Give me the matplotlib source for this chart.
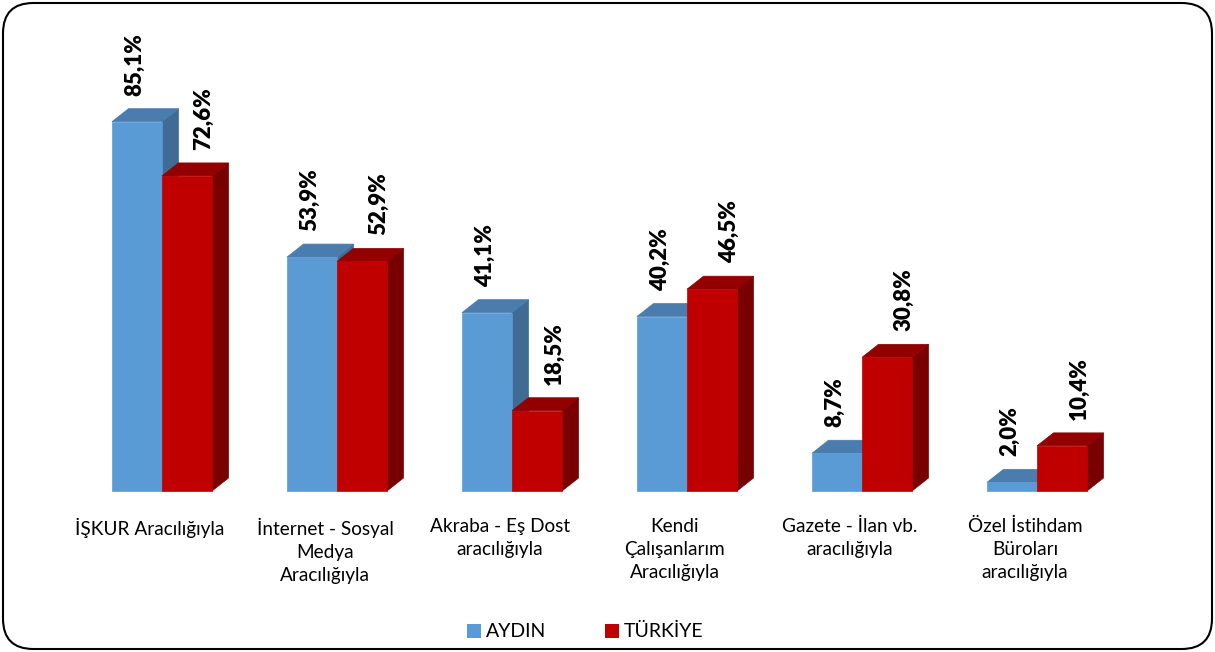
import matplotlib
matplotlib.use("Agg")
import matplotlib.pyplot as plt
from matplotlib.patches import Polygon, Patch, FancyBboxPatch

plt.rcParams['font.family'] = ['Lato', 'DejaVu Sans']

# data
categories = [
    "İŞKUR Aracılığıyla",
    "İnternet - Sosyal\nMedya\nAracılığıyla",
    "Akraba - Eş Dost\naracılığıyla",
    "Kendi\nÇalışanlarım\nAracılığıyla",
    "Gazete - İlan vb.\naracılığıyla",
    "Özel İstihdam\nBüroları\naracılığıyla",
]
aydin = [85.1, 53.9, 41.1, 40.2, 8.7, 2.0]
turkiye = [72.6, 52.9, 18.5, 46.5, 30.8, 10.4]
series_names = ["AYDIN", "TÜRKİYE"]

# colours: front, top, side
blue = ("#5B9BD5", "#4A7DAE", "#3F6B95")
red = ("#C00000", "#930000", "#790000")

# layout in pixels (figure is 1215 x 652 at 100 dpi)
W, H = 1215, 652
X0, GAP = 162, 175          # centre of first group, distance between groups
BASE, PPU = 161, 4.34       # baseline from bottom, pixels per percent
BAR = 50 / GAP
DX, DY = 16.5 / GAP, 13 / PPU

fig = plt.figure(figsize=(W / 100, H / 100), dpi=100)
ax = fig.add_axes([0, 0, 1, 1])
ax.set_xlim(-X0 / GAP, (W - X0) / GAP)
ax.set_ylim(-BASE / PPU, (H - BASE) / PPU)
ax.axis("off")


def bar3d(x_left, h, cols):
    front = [(x_left, 0), (x_left + BAR, 0), (x_left + BAR, h), (x_left, h)]
    top = [(x_left, h), (x_left + BAR, h), (x_left + BAR + DX, h + DY), (x_left + DX, h + DY)]
    side = [(x_left + BAR, 0), (x_left + BAR + DX, DY), (x_left + BAR + DX, h + DY), (x_left + BAR, h)]
    ax.add_patch(Polygon(side, closed=True, facecolor=cols[2], edgecolor=cols[2], lw=0.5))
    ax.add_patch(Polygon(top, closed=True, facecolor=cols[1], edgecolor=cols[1], lw=0.5))
    ax.add_patch(Polygon(front, closed=True, facecolor=cols[0], edgecolor=cols[0], lw=0.5))


for i in range(len(categories)):
    bar3d(i - BAR, aydin[i], blue)
    bar3d(i, turkiye[i], red)

    # value labels
    for val, xc in ((aydin[i], i - BAR / 2 - 2 / GAP), (turkiye[i], i + BAR / 2 + 17 / GAP)):
        ax.text(xc, val + DY + 13 / PPU, f"{val:.1f}%".replace(".", ","),
                rotation=90, ha="center", va="bottom",
                fontsize=16, fontweight="heavy", color="black")

    # category labels
    ax.text(i - 12 / GAP, -27 / PPU, categories[i], ha="center", va="top",
            fontsize=13.7, linespacing=1.42, color="black")

handles = [Patch(facecolor=blue[0]), Patch(facecolor=red[0])]
fig.legend(handles, series_names, loc="center", bbox_to_anchor=(0.4815, 0.031),
           ncol=2, frameon=False, fontsize=14, handlelength=0.72, handleheight=0.72,
           handletextpad=0.25, columnspacing=3.0)

border = FancyBboxPatch((3 / W, 3 / H), (W - 6) / W, (H - 6) / H,
                        boxstyle="round,pad=0,rounding_size=0.025",
                        transform=fig.transFigure, facecolor="none",
                        edgecolor="black", lw=1.5, mutation_aspect=W / H)
fig.patches.append(border)

fig.savefig("out.png", dpi=100)
